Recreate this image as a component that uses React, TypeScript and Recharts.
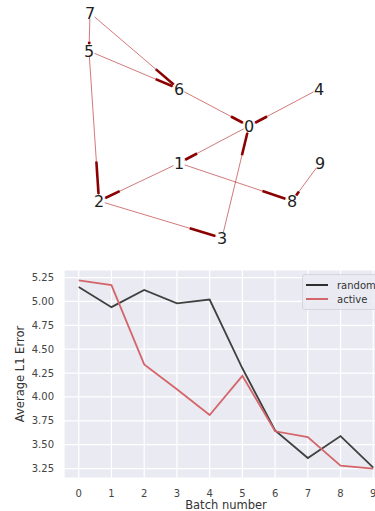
import {
  CartesianGrid,
  Line,
  LineChart,
  Scatter,
  ScatterChart,
  XAxis,
  YAxis,
} from 'recharts'

// graph layout (pixel-like units)
const nodeIds = ['0', '1', '2', '3', '4', '5', '6', '7', '8', '9']
const nodeX = [249, 179, 99, 222, 319, 89, 179, 90, 292, 320]
const nodeY = [126, 163, 201, 238, 89, 51, 89, 13, 201, 163]

// directed edges: from -> to
const edgeFrom = [7, 7, 5, 5, 6, 4, 3, 0, 1, 1, 9, 2]
const edgeTo = [5, 6, 6, 2, 0, 0, 0, 1, 2, 8, 8, 3]

// line chart values
const batches = [0, 1, 2, 3, 4, 5, 6, 7, 8, 9]
const randomErr = [5.15, 4.94, 5.12, 4.98, 5.02, 4.3, 3.65, 3.36, 3.59, 3.26]
const activeErr = [5.22, 5.17, 4.34, 4.08, 3.81, 4.22, 3.64, 3.58, 3.28, 3.25]
const yTicks = [3.25, 3.5, 3.75, 4.0, 4.25, 4.5, 4.75, 5.0, 5.25]
const seriesNames = ['random', 'active']
const seriesColors = ['#2e2e2e', '#d4666a']

const nodes = nodeIds.map((id, i) => ({ id, x: nodeX[i], y: nodeY[i] }))

const edges = edgeFrom.map((f, i) => {
  const a = nodes[f]
  const b = nodes[edgeTo[i]]
  const dx = b.x - a.x
  const dy = b.y - a.y
  const len = Math.sqrt(dx * dx + dy * dy)
  const ux = dx / len
  const uy = dy / len
  const at = (d: number) => ({ x: b.x - ux * d, y: b.y - uy * d })
  return {
    thin: [{ x: a.x + ux * 6, y: a.y + uy * 6 }, at(6)],
    head: [at(0.27 * len - 1), at(7)],
  }
})

const rows = batches.map((b, i) => ({ batch: b, random: randomErr[i], active: activeErr[i] }))

const font = 'DejaVu Sans, sans-serif'
const noShape = () => <g />

function NodeLabel(p: any) {
  return (
    <text x={p.cx} y={p.cy} textAnchor="middle" dominantBaseline="central" fontSize={16} fill="#1e1e1e" fontFamily={font}>
      {p.payload.id}
    </text>
  )
}

function LegendBox() {
  return (
    <div style={{ position: 'absolute', left: 302, top: 274, background: 'rgba(234,234,242,0.85)', border: '1px solid #d6d6dc', borderRadius: 3, padding: '3px 0 3px 3px', width: 90 }}>
      {seriesNames.map((name, i) => (
        <div key={name} style={{ display: 'flex', alignItems: 'center', height: 14, fontSize: 10, color: '#333', fontFamily: font }}>
          <span style={{ display: 'inline-block', width: 22, height: 0, borderTop: `2px solid ${seriesColors[i]}`, marginRight: 9 }} />
          {name}
        </div>
      ))}
    </div>
  )
}

export default function App() {
  return (
    <div style={{ position: 'absolute', left: 0, top: 0, width: 375, height: 511, overflow: 'hidden', background: '#fff', fontFamily: font }}>
      <div style={{ position: 'absolute', left: 0, top: 0 }}>
        <ScatterChart width={375} height={255} margin={{ top: 0, right: 0, bottom: 0, left: 0 }}>
          <XAxis type="number" dataKey="x" domain={[0, 375]} hide />
          <YAxis type="number" dataKey="y" domain={[0, 255]} reversed hide />
          {edges.map((e, i) => (
            <Scatter key={'t' + i} data={e.thin} line={{ stroke: '#b22222', strokeOpacity: 0.6, strokeWidth: 1 }} shape={noShape} isAnimationActive={false} />
          ))}
          {edges.map((e, i) => (
            <Scatter key={'h' + i} data={e.head} line={{ stroke: '#8b0000', strokeWidth: 2.6 }} shape={noShape} isAnimationActive={false} />
          ))}
          <Scatter data={nodes} shape={NodeLabel} isAnimationActive={false} />
        </ScatterChart>
      </div>
      <div style={{ position: 'absolute', left: 0, top: 262 }}>
        <LineChart width={400} height={250} data={rows} margin={{ top: 8, right: 12, bottom: 0, left: 0 }}>
          <CartesianGrid stroke="#ffffff" strokeWidth={1.2} fill="#eaeaf2" />
          <XAxis
            type="number"
            dataKey="batch"
            domain={[-0.45, 9.45]}
            ticks={batches}
            tickLine={false}
            axisLine={false}
            tickSize={0}
            tickMargin={12}
            height={34}
            tick={{ fontSize: 10, fill: '#444', fontFamily: font }}
            label={{ value: 'Batch number', position: 'insideBottom', offset: 3, fontSize: 11.5, fill: '#333', fontFamily: font }}
          />
          <YAxis
            type="number"
            domain={[3.151, 5.329]}
            ticks={yTicks}
            tickFormatter={(v: number) => v.toFixed(2)}
            tickLine={false}
            axisLine={false}
            tickSize={0}
            tickMargin={10}
            width={64}
            tick={{ fontSize: 10, fill: '#444', fontFamily: font }}
            label={{ value: 'Average L1 Error', angle: -90, position: 'insideLeft', offset: 20, fontSize: 11.5, fill: '#333', fontFamily: font, style: { textAnchor: 'middle' } }}
          />
          <Line dataKey="random" stroke={seriesColors[0]} strokeOpacity={0.9} strokeWidth={1.8} dot={false} isAnimationActive={false} />
          <Line dataKey="active" stroke={seriesColors[1]} strokeWidth={1.8} dot={false} isAnimationActive={false} />
        </LineChart>
      </div>
      <LegendBox />
    </div>
  )
}
